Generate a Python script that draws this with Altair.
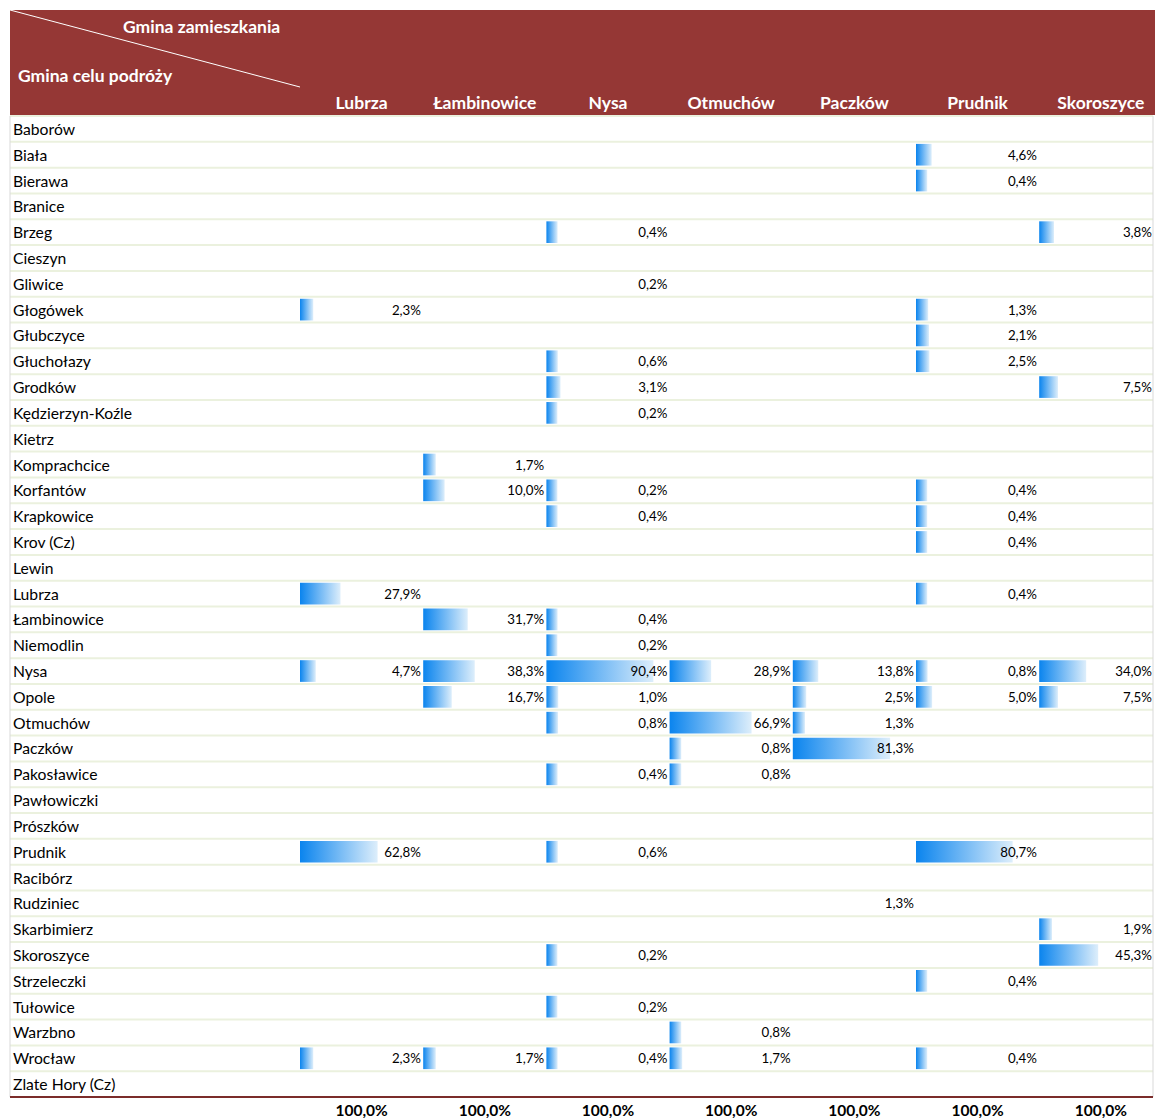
import altair as alt
import pandas as pd

destinations = ["Baborów", "Biała", "Bierawa", "Branice", "Brzeg", "Cieszyn", "Gliwice",
                "Głogówek", "Głubczyce", "Głuchołazy", "Grodków", "Kędzierzyn-Koźle", "Kietrz",
                "Komprachcice", "Korfantów", "Krapkowice", "Krov (Cz)", "Lewin", "Lubrza",
                "Łambinowice", "Niemodlin", "Nysa", "Opole", "Otmuchów", "Paczków", "Pakosławice",
                "Pawłowiczki", "Prószków", "Prudnik", "Racibórz", "Rudziniec", "Skarbimierz",
                "Skoroszyce", "Strzeleczki", "Tułowice", "Warzbno", "Wrocław", "Zlate Hory (Cz)"]

residences = ["Lubrza", "Łambinowice", "Nysa", "Otmuchów", "Paczków", "Prudnik", "Skoroszyce"]

lubrza = {"Głogówek": 2.3, "Lubrza": 27.9, "Nysa": 4.7, "Prudnik": 62.8, "Wrocław": 2.3}
lambinowice = {"Komprachcice": 1.7, "Korfantów": 10.0, "Łambinowice": 31.7, "Nysa": 38.3,
               "Opole": 16.7, "Wrocław": 1.7}
nysa = {"Brzeg": 0.4, "Gliwice": 0.2, "Głuchołazy": 0.6, "Grodków": 3.1, "Kędzierzyn-Koźle": 0.2,
        "Korfantów": 0.2, "Krapkowice": 0.4, "Łambinowice": 0.4, "Niemodlin": 0.2, "Nysa": 90.4,
        "Opole": 1.0, "Otmuchów": 0.8, "Pakosławice": 0.4, "Prudnik": 0.6, "Skoroszyce": 0.2,
        "Tułowice": 0.2, "Wrocław": 0.4}
otmuchow = {"Nysa": 28.9, "Otmuchów": 66.9, "Paczków": 0.8, "Pakosławice": 0.8, "Warzbno": 0.8,
            "Wrocław": 1.7}
paczkow = {"Nysa": 13.8, "Opole": 2.5, "Otmuchów": 1.3, "Paczków": 81.3, "Rudziniec": 1.3}
prudnik = {"Biała": 4.6, "Bierawa": 0.4, "Głogówek": 1.3, "Głubczyce": 2.1, "Głuchołazy": 2.5,
           "Korfantów": 0.4, "Krapkowice": 0.4, "Krov (Cz)": 0.4, "Lubrza": 0.4, "Nysa": 0.8,
           "Opole": 5.0, "Prudnik": 80.7, "Strzeleczki": 0.4, "Wrocław": 0.4}
skoroszyce = {"Brzeg": 3.8, "Grodków": 7.5, "Nysa": 34.0, "Opole": 7.5, "Skarbimierz": 1.9,
              "Skoroszyce": 45.3}
columns_values = [lubrza, lambinowice, nysa, otmuchow, paczkow, prudnik, skoroszyce]

# cells that show a value but have no data bar
no_bar = [("Nysa", "Gliwice"), ("Paczków", "Rudziniec")]

totals = [100.0, 100.0, 100.0, 100.0, 100.0, 100.0, 100.0]

header_left = "Gmina celu podróży"
header_right = "Gmina zamieszkania"


def pl(v):
    return f"{v:.1f}%".replace(".", ",")


rows = []
for i, (res, vals) in enumerate(zip(residences, columns_values)):
    for d, v in vals.items():
        rows.append({"res": res, "idx": i, "dest": d, "value": v, "label": pl(v),
                     "bar": (res, d) not in no_bar})
cells = pd.DataFrame(rows)
cols = pd.DataFrame({"res": residences, "idx": list(range(7)),
                     "total": [pl(t) for t in totals]})
dests = pd.DataFrame({"dest": destinations})

W = 1143
H = 981
FONT = "Lato"
HEAD = "#953735"

xs = alt.Scale(domain=[0, W], range=[0, W], nice=False, zero=False)
ys = alt.Scale(domain=destinations, paddingInner=0.16, paddingOuter=0.08)
X = lambda f: alt.X(f, type="quantitative", scale=xs, axis=None)
Y = alt.Y("dest:N", scale=ys, axis=None, sort=destinations)

# header background and decorations
header = alt.Chart(dests.head(1)).mark_rect(color=HEAD).encode(
    x=alt.value(0), x2=alt.value(W + 2), y=alt.value(-106), y2=alt.value(-1))
diag = alt.Chart(dests.head(1)).mark_rule(color="white", strokeWidth=1).encode(
    x=alt.value(0), x2=alt.value(290), y=alt.value(-106), y2=alt.value(-29))
htxt1 = alt.Chart(pd.DataFrame({"t": [header_right]})).mark_text(
    font=FONT, fontSize=17.5, fontWeight="bold", color="white", align="left", baseline="middle"
).encode(x=alt.value(113), y=alt.value(-88), text="t:N")
htxt2 = alt.Chart(pd.DataFrame({"t": [header_left]})).mark_text(
    font=FONT, fontSize=17.5, fontWeight="bold", color="white", align="left", baseline="middle"
).encode(x=alt.value(8), y=alt.value(-39), text="t:N")

colnames = alt.Chart(cols).transform_calculate(
    cx="290 + datum.idx * 123.2 + 61.6"
).mark_text(font=FONT, fontSize=17.5, fontWeight="bold", color="white", baseline="middle").encode(
    x=X("cx"), y=alt.value(-12), text="res:N")

# row separators
seps = alt.Chart(dests).mark_rule(color="#EBF1DE", strokeWidth=2, yOffset=-12.9).encode(
    y=Y, x=alt.value(0), x2=alt.value(W))
borders = alt.Chart(pd.DataFrame({"p": [0, W]})).mark_rule(color="#D9D9D9", strokeWidth=1).encode(
    x=X("p"), y=alt.value(0), y2=alt.value(H))

# row labels
labels = alt.Chart(dests).mark_text(font=FONT, fontSize=15.7, align="left", baseline="middle",
                                    color="black", dy=1).encode(
    x=alt.value(3), y=Y, text="dest:N")

bars = alt.Chart(cells).transform_filter("datum.bar").transform_calculate(
    x0="290 + datum.idx * 123.2",
    x1="290 + datum.idx * 123.2 + 11 + (datum.value - 0.2) * 1.064"
).mark_bar(color={"gradient": "linear", "x1": 0, "x2": 1, "y1": 0, "y2": 0,
                  "stops": [{"offset": 0, "color": "#0A84EE"},
                            {"offset": 1, "color": "#DDEEFB"}]}).encode(
    x=X("x0"), x2="x1:Q", y=Y)

values = alt.Chart(cells).transform_calculate(
    tx="min(290 + datum.idx * 123.2 + 121, 1142)"
).mark_text(font=FONT, fontSize=13.3, align="right", baseline="middle", color="black", dy=1).encode(
    x=X("tx"), y=Y, text="label:N")

footer_line = alt.Chart(dests.head(1)).mark_rule(color="#7B2C2A", strokeWidth=2).encode(
    x=alt.value(0), x2=alt.value(W), y=alt.value(H), y2=alt.value(H))
footer = alt.Chart(cols).transform_calculate(
    cx="290 + datum.idx * 123.2 + 61.6"
).mark_text(font=FONT, fontSize=15.5, fontWeight="bold", color="black", baseline="middle").encode(
    x=X("cx"), y=alt.value(995), text="total:N")

chart = alt.layer(header, diag, htxt1, htxt2, colnames, seps, borders, bars, labels, values,
                  footer_line, footer).properties(
    width=W, height=H,
    autosize=alt.AutoSizeParams(type="none"),
    padding={"left": 2, "top": 108, "right": 2, "bottom": 21}
).configure_view(strokeWidth=0)

chart.save("out.html", embed_options={"renderer": "svg", "actions": False})
